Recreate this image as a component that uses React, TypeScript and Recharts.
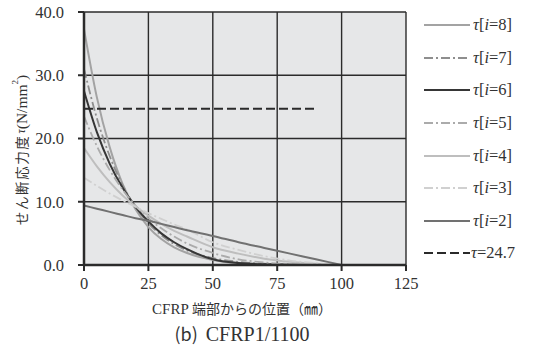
import React from 'react';
import { LineChart, Line, XAxis, YAxis, CartesianGrid } from 'recharts';

// 位置 (mm)
const positions = [0, 5, 10, 15, 20, 25, 30, 35, 40, 50, 60, 70, 80, 90, 100];

const tau8 = [37.3, 26.5, 18.6, 12.8, 8.8, 6.0, 4.1, 2.8, 1.9, 0.8, 0.3, 0.1, 0.05, 0.02, 0];
const tau7 = [31.0, 23.2, 17.2, 12.6, 9.2, 6.6, 4.7, 3.3, 2.3, 1.1, 0.5, 0.2, 0.1, 0.03, 0];
const tau6 = [27.5, 21.0, 16.0, 12.2, 9.2, 6.9, 5.0, 3.6, 2.5, 0.9, 0.3, 0.1, 0.04, 0.01, 0];
const tau5 = [23.5, 18.8, 15.0, 11.9, 9.4, 7.4, 5.8, 4.5, 3.4, 1.9, 0.9, 0.4, 0.15, 0.05, 0];
const tau4 = [18.5, 15.6, 13.1, 11.0, 9.3, 7.8, 6.5, 5.4, 4.5, 2.8, 1.8, 1.0, 0.5, 0.2, 0];
const tau3 = [13.8, 12.5, 11.3, 10.2, 9.2, 8.2, 7.3, 6.4, 5.6, 3.6, 2.4, 1.4, 0.7, 0.3, 0];
const tau2 = [9.4, 8.9, 8.4, 7.9, 7.4, 7.0, 6.5, 6.0, 5.5, 4.6, 3.6, 2.7, 1.8, 0.9, 0];

// τ=24.7 の破線 (始点と終点)
const limitX = [0, 90];
const limitValue = 24.7;

const xTicks = [0, 25, 50, 75, 100, 125];
const yTicks = [0, 10, 20, 30, 40];

const series = [
  { key: 't8', label: '8', values: tau8, color: '#a3a3a3', width: 2, dash: undefined },
  { key: 't7', label: '7', values: tau7, color: '#8e8e8e', width: 1.8, dash: '9 3 2 3' },
  { key: 't6', label: '6', values: tau6, color: '#363636', width: 2, dash: undefined },
  { key: 't5', label: '5', values: tau5, color: '#ababab', width: 1.8, dash: '9 3 2 3' },
  { key: 't4', label: '4', values: tau4, color: '#bebebe', width: 2, dash: undefined },
  { key: 't3', label: '3', values: tau3, color: '#d0d0d0', width: 1.8, dash: '9 3 2 3' },
  { key: 't2', label: '2', values: tau2, color: '#717171', width: 2, dash: undefined },
];

const chartData = positions.map((x, i) => {
  const row: Record<string, number | null> = { x };
  series.forEach(s => { row[s.key] = s.values[i]; });
  row.limit = limitX.includes(x) ? limitValue : null;
  return row;
});

const serif = '"Liberation Serif", "DejaVu Serif", serif';
const jp = '"Noto Sans CJK JP", sans-serif';

const LegendBox = () => (
  <div style={{ position: 'absolute', left: 423, top: 9, width: 115, fontFamily: serif, fontSize: 16.5, color: '#333' }}>
    {series.map(s => (
      <div key={s.key} style={{ display: 'flex', alignItems: 'center', height: 32.6 }}>
        <svg width={48} height={10}>
          <line x1={1} y1={5} x2={47} y2={5} stroke={s.color} strokeWidth={s.width} strokeDasharray={s.dash} />
        </svg>
        <span style={{ marginLeft: 2 }}><i>τ</i>[<i>i</i>={s.label}]</span>
      </div>
    ))}
    <div style={{ display: 'flex', alignItems: 'center', height: 32.6 }}>
      <svg width={48} height={10}>
        <line x1={1} y1={5} x2={47} y2={5} stroke="#2a2a2a" strokeWidth={2.2} strokeDasharray="9 4" />
      </svg>
      <span><i>τ</i>=24.7</span>
    </div>
  </div>
);

const YLabel = () => (
  <text transform="translate(21,150) rotate(-90)" textAnchor="middle" dominantBaseline="central" fill="#333">
    <tspan fontFamily={jp} fontSize={13.5} letterSpacing={1.6}>せん断応力度</tspan>
    <tspan fontFamily={serif} fontSize={12} fontStyle="italic" dx={1}>τ</tspan>
    <tspan fontFamily={serif} fontSize={15.5}>(N/mm</tspan>
    <tspan fontFamily={serif} fontSize={9} dy={-6}>2</tspan>
    <tspan fontFamily={serif} fontSize={15.5} dy={6}>)</tspan>
  </text>
);

export default function App() {
  return (
    <div style={{ position: 'absolute', left: 0, top: 0, width: 538, height: 355, background: '#fff' }}>
      <LineChart
        width={420}
        height={300}
        data={chartData}
        margin={{ top: 12, right: 14, left: 0, bottom: 0 }}
        style={{ fontFamily: serif }}
      >
        <CartesianGrid
          stroke="#2b2b2b"
          strokeWidth={1.4}
          fill="#e6e7e8"
          fillOpacity={1}
          horizontalValues={yTicks}
          verticalValues={xTicks}
        />
        <XAxis
          dataKey="x"
          type="number"
          domain={[0, 125]}
          ticks={xTicks}
          height={35}
          tickSize={6}
          tickMargin={6}
          axisLine={{ stroke: '#2b2b2b', strokeWidth: 2.5 }}
          tickLine={{ stroke: '#2b2b2b', strokeWidth: 2 }}
          tick={{ fontFamily: serif, fontSize: 16.5, fill: '#333' }}
        />
        <YAxis
          type="number"
          domain={[0, 40]}
          ticks={yTicks}
          width={84}
          tickSize={6}
          tickMargin={14}
          tickFormatter={(v: number) => v.toFixed(1)}
          axisLine={{ stroke: '#2b2b2b', strokeWidth: 2.5 }}
          tickLine={{ stroke: '#2b2b2b', strokeWidth: 2 }}
          tick={{ fontFamily: serif, fontSize: 16.5, fill: '#333' }}
        />
        {series.map(s => (
          <Line
            key={s.key}
            dataKey={s.key}
            type="monotone"
            stroke={s.color}
            strokeWidth={s.width}
            strokeDasharray={s.dash}
            dot={false}
            isAnimationActive={false}
          />
        ))}
        <Line
          dataKey="limit"
          type="linear"
          stroke="#2a2a2a"
          strokeWidth={2.2}
          strokeDasharray="9 4"
          dot={false}
          connectNulls
          isAnimationActive={false}
        />
        <YLabel />
      </LineChart>
      <LegendBox />
      <div style={{ position: 'absolute', left: 0, width: 484, top: 298, textAlign: 'center', fontSize: 14, color: '#333' }}>
        <span style={{ fontFamily: serif, fontSize: 15 }}>CFRP </span>
        <span style={{ fontFamily: jp }}>端部からの位置（㎜）</span>
      </div>
      <div style={{ position: 'absolute', left: 0, width: 484, top: 320, textAlign: 'center', color: '#333' }}>
        <span style={{ fontFamily: jp, fontSize: 18 }}>(b)</span>
        <span style={{ fontFamily: serif, fontSize: 20, marginLeft: 8 }}>CFRP1/1100</span>
      </div>
    </div>
  );
}
